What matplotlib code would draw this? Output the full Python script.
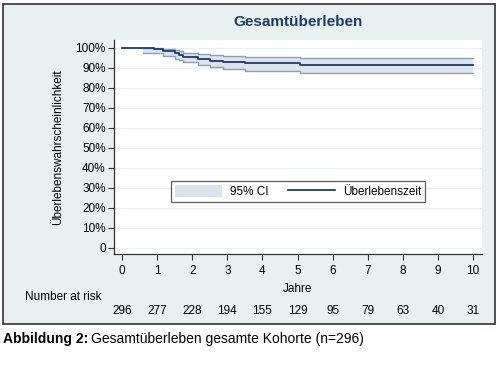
import matplotlib
matplotlib.use("Agg")
import matplotlib.pyplot as plt
from matplotlib.patches import Rectangle
from matplotlib.transforms import blended_transform_factory

# Kaplan-Meier estimate (years, percent)
times = [0, 0.6, 0.9, 1.18, 1.5, 1.62, 1.75, 2.17, 2.5, 2.87, 3.5, 5.07, 10]
surv = [100, 99.7, 99.3, 98.3, 97.4, 96.5, 95.1, 94.1, 93.5, 92.7, 92.3, 91.5, 91.5]
ci_low = [None, 97.5, 97.3, 95.7, 94.4, 93.8, 93.0, 91.2, 90.2, 89.2, 88.5, 87.3, 87.3]
ci_high = [None, 100, 100, 99.5, 98.7, 98.2, 97.4, 96.7, 96.3, 95.7, 95.1, 94.6, 94.6]

risk_years = list(range(0, 11))
at_risk = [296, 277, 228, 194, 155, 129, 95, 79, 63, 40, 31]
yticks = [0, 10, 20, 30, 40, 50, 60, 70, 80, 90, 100]
ylabels = ["0"] + [f"{v}%" for v in yticks[1:]]

bg = "#e8f0f2"
navy = "#1f3a6e"
band = "#dce3ec"
band_edge = "#8d9fb6"
plt.rcParams['font.family'] = ['Liberation Sans', 'DejaVu Sans']
fs = 8.5

W, H = 500, 366
fig = plt.figure(figsize=(W / 100, H / 100), dpi=100)
fig.patch.set_facecolor("white")

# panel background with border
fig.add_artist(Rectangle((3 / W, 1 - 324 / H), 492 / W, 320 / H, transform=fig.transFigure,
                         facecolor=bg, edgecolor="#333333", lw=1.2, zorder=-5))

ax = fig.add_axes([114 / W, 1 - 254 / H, 368 / W, 214 / H])
ax.set_facecolor("white")
ax.set_xlim(-0.228, 10.256)
ax.set_ylim(-3.25, 103.75)

for v in yticks:
    ax.axhline(v, color="#eaf1f4", lw=1, zorder=0)

# confidence band
t_ci = times[1:]
ax.fill_between(t_ci, ci_low[1:], ci_high[1:], step="post", color=band, lw=0, zorder=1,
                label="95% CI")
ax.step(t_ci, ci_low[1:], where="post", color=band_edge, lw=1, zorder=2)
ax.step(t_ci, ci_high[1:], where="post", color=band_edge, lw=1, zorder=2)
ax.step(times, surv, where="post", color=navy, lw=1.3, zorder=3, label="Überlebenszeit")

for s in ["top", "right"]:
    ax.spines[s].set_visible(False)
for s in ["left", "bottom"]:
    ax.spines[s].set_color("#333333")
    ax.spines[s].set_linewidth(0.9)
ax.set_yticks(yticks)
ax.set_yticklabels(ylabels)
ax.set_xticks(risk_years)
ax.tick_params(axis="both", labelsize=fs, colors="#333333", length=4, width=0.8, labelcolor="black")
ax.tick_params(axis="x", pad=4)
ax.tick_params(axis="y", pad=2)

ax.set_ylabel("Überlebenswahrscheinlichkeit", fontsize=fs, labelpad=8)
ax.set_xlabel("Jahre", fontsize=fs, labelpad=4)
ax.set_title("Gesamtüberleben", fontsize=11, fontweight="bold", color=navy, pad=10)

leg = ax.legend(loc="center", bbox_to_anchor=(0.5, 0.292), ncol=2, fontsize=fs, frameon=True,
                fancybox=False, edgecolor="#333333", handlelength=4.0, handleheight=1.1,
                columnspacing=1.6, borderpad=0.35, handletextpad=0.7, borderaxespad=0)
leg.get_frame().set_linewidth(0.9)

# number at risk table
tr = blended_transform_factory(ax.transData, fig.transFigure)
fig.text(25 / W, 1 - 297 / H, "Number at risk", fontsize=fs, va="center", ha="left")
for yr, n in zip(risk_years, at_risk):
    ax.text(yr, 1 - 311 / H, str(n), transform=tr, fontsize=fs, ha="center", va="center")

# caption
cap = ['Liberation Sans Narrow', 'Liberation Sans', 'DejaVu Sans']
t1 = fig.text(3 / W, 1 - 339 / H, "Abbildung 2:", fontsize=10, fontweight="bold", family=cap,
              va="center", ha="left")
fig.canvas.draw()
bb = t1.get_window_extent()
fig.text((bb.x1 + 3) / W, 1 - 339 / H, "Gesamtüberleben gesamte Kohorte (n=296)", fontsize=10,
         family=cap, va="center", ha="left")

fig.savefig("out.png", dpi=100)
